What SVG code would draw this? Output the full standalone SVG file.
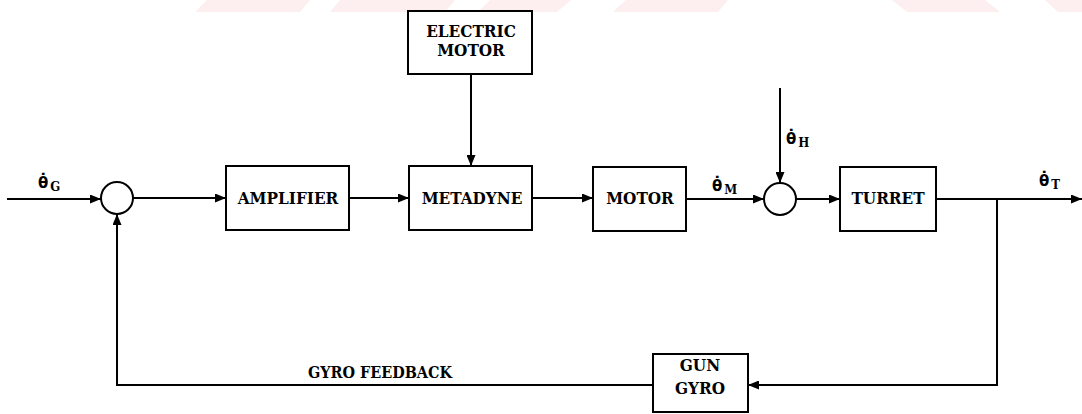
<svg xmlns="http://www.w3.org/2000/svg" width="1082" height="414" viewBox="0 0 1082 414">
<style>
.box{fill:#fff;stroke:#000;stroke-width:2}
.sum{fill:#fff;stroke:#000;stroke-width:2}
.ln{fill:none;stroke:#000;stroke-width:2}
.lbl{font-family:"DejaVu Serif Condensed","DejaVu Serif",serif;font-stretch:condensed;font-weight:bold;font-size:17px;fill:#000;text-anchor:middle}
.th{font-family:"DejaVu Sans",sans-serif;font-weight:bold;font-size:15px;fill:#000}
.sub{font-family:"DejaVu Serif Condensed","DejaVu Serif",serif;font-stretch:condensed;font-weight:bold;font-size:13px}
.wm{fill:#fdeef0}
</style>
<defs>
<marker id="arr" markerUnits="userSpaceOnUse" markerWidth="11" markerHeight="9" refX="11" refY="4.5" orient="auto">
<path d="M0,0 L11,4.5 L0,9 z" fill="#000"/>
</marker>
</defs>
<rect width="1082" height="414" fill="#fff"/>
<g id="watermark">
<polygon class="wm" points="207,0 310,0 300,12 195,12"/>
<polygon class="wm" points="340,0 455,0 445,12 330,12"/>
<polygon class="wm" points="490,0 571,0 557,12 478,12"/>
<polygon class="wm" points="626,0 728,0 718,12 613,12"/>
<polygon class="wm" points="892,0 985,0 1000,12 907,12"/>
<polygon class="wm" points="1045,0 1082,0 1082,12 1058,12"/>
</g>
<g id="connectors">
<path class="ln" d="M7 199 H101" marker-end="url(#arr)"/>
<path class="ln" d="M133 198 H226" marker-end="url(#arr)"/>
<path class="ln" d="M349 198 H409" marker-end="url(#arr)"/>
<path class="ln" d="M471 74 V166" marker-end="url(#arr)"/>
<path class="ln" d="M532 198 H593" marker-end="url(#arr)"/>
<path class="ln" d="M686 199 H764" marker-end="url(#arr)"/>
<path class="ln" d="M780 88 V183" marker-end="url(#arr)"/>
<path class="ln" d="M796 199 H840" marker-end="url(#arr)"/>
<path class="ln" d="M936 199 H1082" marker-end="url(#arr)"/>
<path class="ln" d="M997 199 V385 H748" marker-end="url(#arr)"/>
<path class="ln" d="M653 385 H117 V214" marker-end="url(#arr)"/>
</g>
<g id="sum1"><circle class="sum" cx="117" cy="198" r="16"/></g>
<g id="sum2"><circle class="sum" cx="780" cy="199" r="16"/></g>
<g id="amplifier">
<rect class="box" x="226" y="166" width="123" height="64"/>
<text class="lbl" x="288" y="204">AMPLIFIER</text>
</g>
<g id="metadyne">
<rect class="box" x="409" y="166" width="123" height="64"/>
<text class="lbl" x="472" y="204">METADYNE</text>
</g>
<g id="electric-motor">
<rect class="box" x="408" y="11" width="124" height="63"/>
<text class="lbl" x="471" y="37">ELECTRIC</text>
<text class="lbl" x="471" y="56">MOTOR</text>
</g>
<g id="motor">
<rect class="box" x="593" y="167" width="93" height="64"/>
<text class="lbl" x="640" y="204">MOTOR</text>
</g>
<g id="turret">
<rect class="box" x="840" y="167" width="96" height="64"/>
<text class="lbl" x="888" y="204">TURRET</text>
</g>
<g id="gun-gyro">
<rect class="box" x="653" y="354" width="95" height="58"/>
<text class="lbl" x="700" y="371">GUN</text>
<text class="lbl" x="700" y="394">GYRO</text>
</g>
<g id="labels">
<text class="lbl" x="380" y="378" style="font-size:16px">GYRO FEEDBACK</text>
<text class="th" x="38" y="188">θ̇<tspan class="sub" dx="2" dy="3">G</tspan></text>
<text class="th" x="712" y="191">θ̇<tspan class="sub" dx="2" dy="3">M</tspan></text>
<text class="th" x="786" y="144">θ̇<tspan class="sub" dx="2" dy="3">H</tspan></text>
<text class="th" x="1039" y="186">θ̇<tspan class="sub" dx="2" dy="3">T</tspan></text>
</g>
</svg>
